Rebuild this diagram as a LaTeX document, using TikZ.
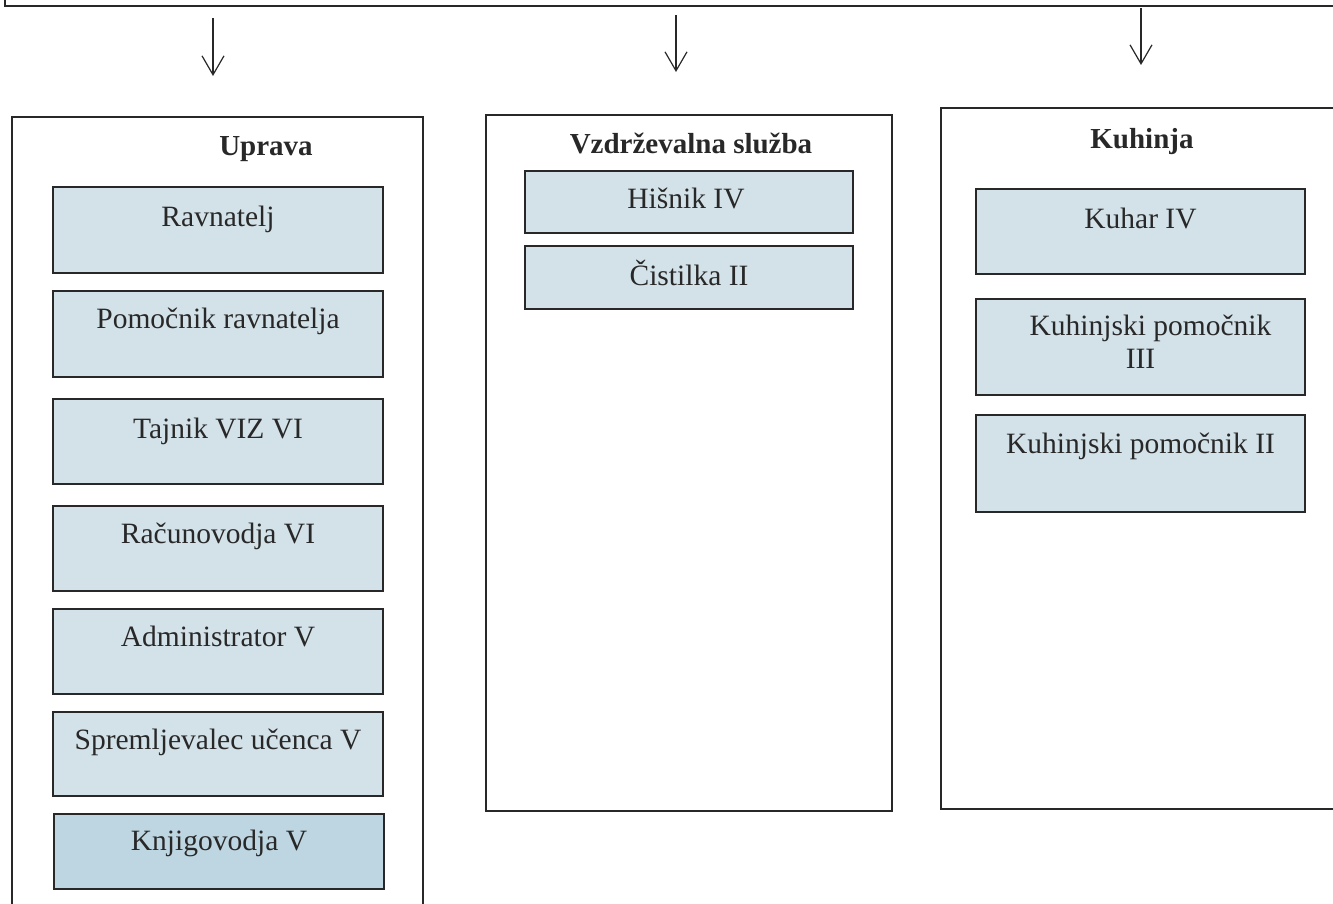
\documentclass[tikz,border=0pt]{standalone}
\usepackage{fontspec}
\setmainfont{Liberation Serif}
\usetikzlibrary{arrows.meta}
\definecolor{jobfill}{RGB}{211,226,233}
\definecolor{jobfilld}{RGB}{190,214,225}
\definecolor{ink}{RGB}{40,40,40}
\begin{document}
\begin{tikzpicture}[x=1pt,y=-1pt,
  cont/.style={draw=ink, line width=1.4pt, rectangle, anchor=north west, inner sep=0pt, outer sep=0pt},
  jobbox/.style={draw=ink, line width=1.8pt, fill=jobfill, rectangle, anchor=north west, inner sep=0pt, outer sep=0pt},
  jobtext/.style={anchor=base, font=\fontsize{29.5}{33}\selectfont, text=ink, align=center, inner sep=0pt},
  titletext/.style={anchor=base, font=\fontsize{29}{33}\selectfont\bfseries, text=ink, inner sep=0pt},
  arr/.style={-{Straight Barb[length=19pt,width=22pt]}, line width=1.2pt, draw=ink}]
\useasboundingbox (0,0) rectangle (1333,903);

% top frame (cut off)
\node[cont, anchor=south west, minimum width=1400, minimum height=60] (topbox) at (5,6) {};

% arrows
\coordinate (a1s) at (213,18); \coordinate (a1e) at (213,76);
\coordinate (a2s) at (676,15); \coordinate (a2e) at (676,72);
\coordinate (a3s) at (1141,8); \coordinate (a3e) at (1141,65);
\draw[arr] (a1s) -- (a1e);
\draw[arr] (a2s) -- (a2e);
\draw[arr] (a3s) -- (a3e);

% containers
\node[cont, minimum width=411, minimum height=800] (upr) at (12,117) {};
\node[cont, minimum width=406, minimum height=696] (vzd) at (486,115) {};
\node[cont, minimum width=420, minimum height=701] (kuh) at (941,108) {};

% titles
\node[titletext] (tupr) at (266,155) {Uprava};
\node[titletext] (tvzd) at (691,153) {Vzdrževalna služba};
\node[titletext] (tkuh) at (1142,148) {Kuhinja};

% Uprava
\node[jobbox, minimum width=330, minimum height=86] (rav) at (53,187) {};
\node[jobbox, minimum width=330, minimum height=86] (pom) at (53,291) {};
\node[jobbox, minimum width=330, minimum height=85] (taj) at (53,399) {};
\node[jobbox, minimum width=330, minimum height=85] (rac) at (53,506) {};
\node[jobbox, minimum width=330, minimum height=85] (adm) at (53,609) {};
\node[jobbox, minimum width=330, minimum height=84] (spr) at (53,712) {};
\node[jobbox, fill=jobfilld, minimum width=330, minimum height=75] (knj) at (54,814) {};
\node[jobtext] at ([yshift=-39pt]rav.north) {Ravnatelj};
\node[jobtext] at ([yshift=-37pt]pom.north) {Pomočnik ravnatelja};
\node[jobtext] at ([yshift=-39pt]taj.north) {Tajnik VIZ VI};
\node[jobtext] at ([yshift=-37pt]rac.north) {Računovodja VI};
\node[jobtext] at ([yshift=-37pt]adm.north) {Administrator V};
\node[jobtext] at ([yshift=-37pt]spr.north) {Spremljevalec učenca V};
\node[jobtext] at ([yshift=-36pt]knj.north) {Knjigovodja V};

% Vzdrževalna služba
\node[jobbox, minimum width=328, minimum height=62] (his) at (525,171) {};
\node[jobbox, minimum width=328, minimum height=63] (cis) at (525,246) {};
\node[jobtext] at ([yshift=-37pt,xshift=-3pt]his.north) {Hišnik IV};
\node[jobtext] at ([yshift=-39pt]cis.north) {Čistilka II};

% Kuhinja
\node[jobbox, minimum width=329, minimum height=85] (kuhar) at (976,189) {};
\node[jobbox, minimum width=329, minimum height=96] (kp3) at (976,299) {};
\node[jobbox, minimum width=329, minimum height=97] (kp2) at (976,415) {};
\node[jobtext] at ([yshift=-39pt]kuhar.north) {Kuhar IV};
\node[jobtext, anchor=north] at ([yshift=-16pt]kp3.north) {\hspace*{20pt}Kuhinjski pomočnik\\III};
\node[jobtext] at ([yshift=-38pt]kp2.north) {Kuhinjski pomočnik II};
\end{tikzpicture}
\end{document}
